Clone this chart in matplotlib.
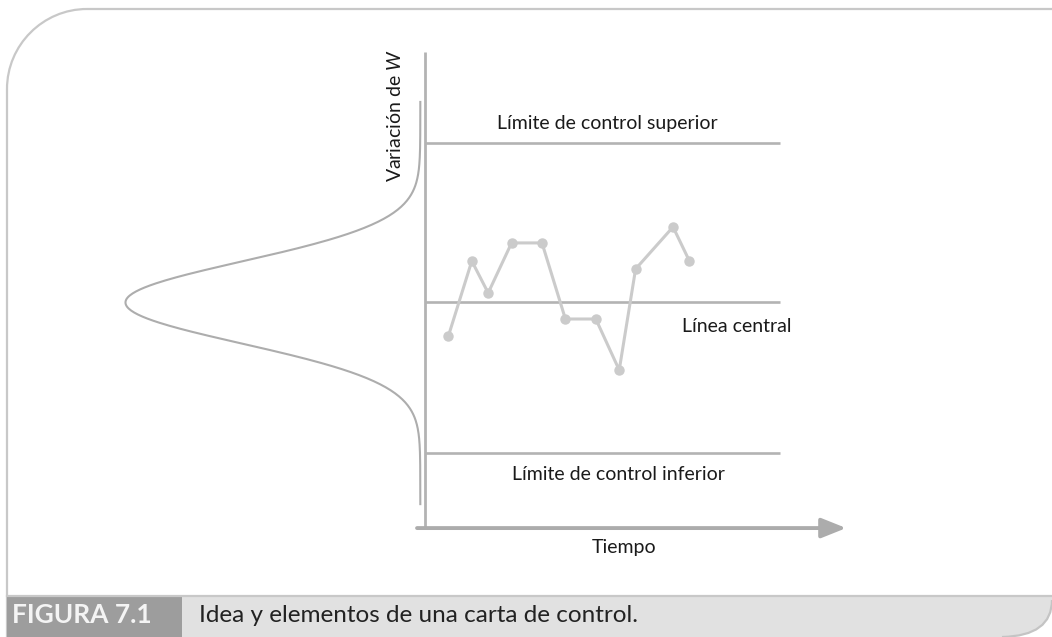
import numpy as np
import matplotlib
matplotlib.use("Agg")
import matplotlib.pyplot as plt
from matplotlib.path import Path
from matplotlib.patches import PathPatch

plt.rcParams['font.family'] = ['Lato', 'DejaVu Sans']
plt.rcParams['mathtext.fontset'] = 'custom'
plt.rcParams['mathtext.rm'] = 'Lato'
plt.rcParams['mathtext.it'] = 'Lato:italic'

# datos de la carta (tiempo vs variacion de W)
tiempo = [1.0, 2.0, 2.7, 3.7, 5.0, 6.0, 7.3, 8.3, 9.0, 10.6, 11.3]
w = [-0.63, 0.78, 0.18, 1.12, 1.12, -0.31, -0.31, -1.27, 0.63, 1.42, 0.78]
lim_sup = 3.0
linea_central = 0.0
lim_inf = -2.83
t_fin = 15.17

gris = '#b3b3b3'
gris_claro = '#cbcbcb'

fig = plt.figure(figsize=(10.52, 6.37), dpi=100)

# marco y pie de figura (coordenadas en pixeles)
bg = fig.add_axes([0, 0, 1, 1])
bg.set_xlim(0, 1052)
bg.set_ylim(637, 0)
bg.axis('off')

r = 80
marco = Path([(7, 637), (7, 9 + r), (7, 9 + r * 0.45), (7 + r * 0.45, 9), (7 + r, 9), (1052, 9)],
             [Path.MOVETO, Path.LINETO, Path.CURVE4, Path.CURVE4, Path.CURVE4, Path.LINETO])
bg.add_patch(PathPatch(marco, fill=False, edgecolor='#c8c8c8', lw=1.6))

barra = Path([(7, 595), (1052, 595), (1052, 600), (1052, 636), (1002, 637), (7, 637), (7, 595)],
             [Path.MOVETO, Path.LINETO, Path.LINETO, Path.CURVE3, Path.CURVE3, Path.LINETO, Path.CLOSEPOLY])
bg.add_patch(PathPatch(barra, facecolor='#e1e1e1', edgecolor='none'))
borde = Path([(1052, 600), (1052, 636), (1002, 637)], [Path.MOVETO, Path.CURVE3, Path.CURVE3])
bg.add_patch(PathPatch(borde, fill=False, edgecolor='#c4c4c4', lw=1.6))
bg.plot([7, 1052], [595.5, 595.5], color='#c8c8c8', lw=1.6)
bg.fill_between([7, 182], 596, 637, color='#9d9d9d', lw=0)
bg.text(12, 615, 'FIGURA 7.1', color='#f4f4f4', fontsize=19, fontweight='bold', va='center', ha='left')
bg.text(199, 615, 'Idea y elementos de una carta de control.', color='#222222', fontsize=17.5,
        va='center', ha='left')

# carta de control
ax = fig.add_axes([0, 0, 1, 1])
ax.patch.set_alpha(0)
ax.set_xlim(-425 / 23.4, 627 / 23.4)
ax.set_ylim(-334.5 / 53.2, 302.5 / 53.2)
ax.axis('off')

ax.plot([0, 0], [-4.24, 4.71], color=gris, lw=2.0, solid_capstyle='butt')
ax.annotate('', xy=(18.0, -4.24), xytext=(-0.34, -4.24),
            arrowprops=dict(arrowstyle='-|>,head_length=0.75,head_width=0.3', lw=2.8, color='#acacac',
                            mutation_scale=20, shrinkA=0, shrinkB=0))

for nivel in [lim_sup, linea_central, lim_inf]:
    ax.plot([0, t_fin], [nivel, nivel], color=gris, lw=1.9, solid_capstyle='butt')

ax.plot(tiempo, w, color=gris_claro, lw=2.2, marker='o', markersize=6.5, zorder=3)

# distribucion normal de W girada
wg = np.linspace(-3.79, 3.77, 400)
ax.plot(-0.2 - 12.6 * np.exp(-wg ** 2 / (2 * 0.77 ** 2)), wg, color='#adadad', lw=1.5)

tc = '#1a1a1a'
ax.text(7.78, 3.37, 'Límite de control superior', fontsize=14, color=tc, ha='center', va='center')
ax.text(13.33, -0.46, 'Línea central', fontsize=14, color=tc, ha='center', va='center')
ax.text(8.25, -3.24, 'Límite de control inferior', fontsize=14, color=tc, ha='center', va='center')
ax.text(8.5, -4.61, 'Tiempo', fontsize=14, color=tc, ha='center', va='center')
ax.text(-1.3, 3.52, 'Variación de $\\mathit{W}$', fontsize=14, color=tc, ha='center', va='center',
        rotation=90)

fig.savefig('out.png', dpi=100)
